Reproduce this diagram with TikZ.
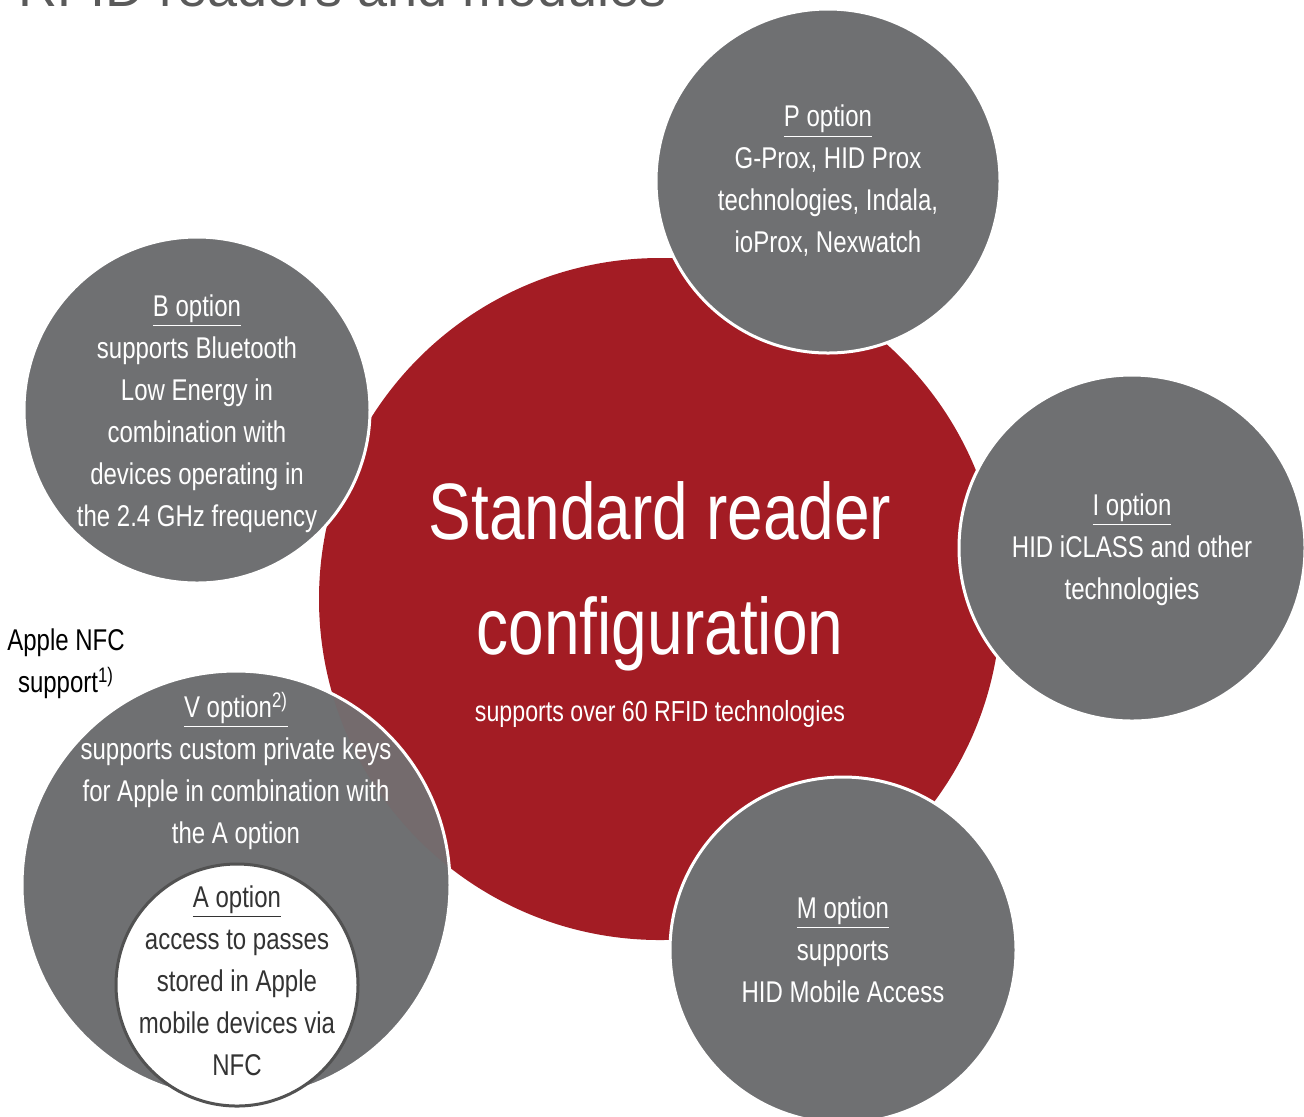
\documentclass[tikz,border=0pt]{standalone}
\usepackage{fontspec}
\setmainfont[FakeStretch=0.8]{Liberation Sans}
\newfontfamily\titlefont{Liberation Sans}
\usepackage{tikz}
\usetikzlibrary{positioning}

\definecolor{hidgray}{HTML}{6F7072}
\definecolor{hidred}{HTML}{A31C24}
\definecolor{hidmix}{HTML}{746B6D}
\definecolor{titlegray}{HTML}{5A5A5A}
\definecolor{darktext}{HTML}{333333}

\begin{document}
\begin{tikzpicture}[x=0.5pt,y=-0.5pt]
        \tikzstyle{every node}=[align=center, inner sep=0pt]
        \tikzstyle{option}=[circle, fill=hidgray, draw=white, line width=1.5pt]
        \tikzstyle{opttext}=[text=white, font=\fontsize{15}{21}\selectfont]

        \useasboundingbox (0,0) rectangle (1304,1116);

        % title, cut off at the top
        \node (title) [anchor=base west, text=titlegray, font=\titlefont\fontsize{27}{32}\selectfont] at (18,6) {RFID readers and modules};

        % standard configuration
        \node (std) [circle, fill=hidred, minimum size=341pt] at (660,599) {};
        \node (stdtext) [text=white, font=\fontsize{40}{57.5}\selectfont] at (660,576) {Standard reader\\configuration};
        \node (stdsub) [opttext, font=\fontsize{14.5}{21}\selectfont] at (660,714) {supports over 60 RFID technologies};

        % options around it
        \node (p) [option, minimum size=172pt] at (828,181) {};
        \node (ptext) [opttext] at (p) {\underline{P option}\\G-Prox, HID Prox\\technologies, Indala,\\ioProx, Nexwatch};

        \node (b) [option, minimum size=173pt] at (197,410) {};
        \node (btext) [opttext] at (197,414) {\underline{B option}\\supports Bluetooth\\Low Energy in\\combination with\\devices operating in\\the 2.4 GHz frequency};

        \node (i) [option, minimum size=173pt] at (1132,548) {};
        \node (itext) [opttext] at (1132,550) {\underline{I option}\\HID iCLASS and other\\technologies};

        \node (m) [option, minimum size=173pt] at (843,950) {};
        \node (mtext) [opttext] at (m) {\underline{M option}\\supports\\HID Mobile Access};

        % Apple NFC support
        \node (nfc) [font=\fontsize{15}{21}\selectfont] at (66,664) {Apple NFC\\support\textsuperscript{1)}};

        \node (v) [circle, fill=hidgray, minimum size=214pt] at (236,885) {};
        \begin{scope}
            \clip (v) circle (107pt);
            \fill[hidmix] (std) circle (170.5pt);
        \end{scope}
        \draw[white, line width=1.5pt] (v) circle (107pt);
        \node (vtext) [opttext] at (236,771) {\underline{V option\textsuperscript{2)}}\\supports custom private keys\\for Apple in combination with\\the A option};

        \node (a) [circle, fill=white, draw=darktext!85, line width=1.5pt, minimum size=121pt] at (237,985) {};
        \node (atext) [opttext, text=darktext] at (237,981) {\underline{A option}\\access to passes\\stored in Apple\\mobile devices via\\NFC};

\end{tikzpicture}
\end{document}
